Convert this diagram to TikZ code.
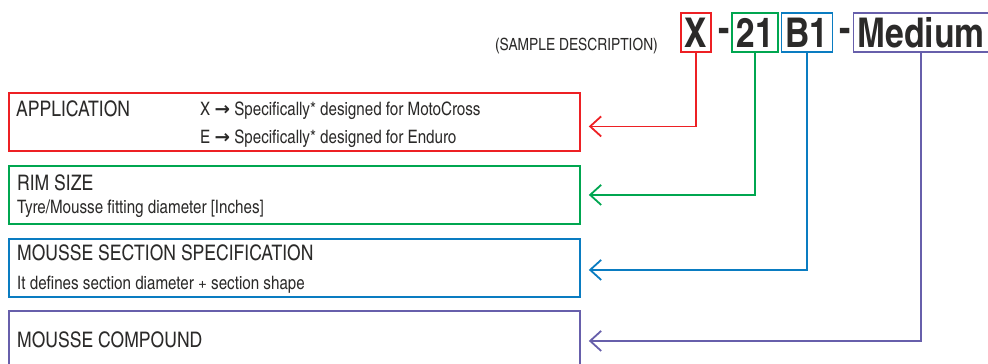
\documentclass[tikz,border=0pt]{standalone}
\usepackage{fontspec}
\setmainfont{texgyreheroscn}[Extension=.otf, UprightFont=*-regular, BoldFont=*-bold]
\newfontfamily\arrowfont{DejaVu Sans}
\usetikzlibrary{arrows.meta,positioning,calc}
\definecolor{appRed}{HTML}{ED2024}
\definecolor{rimGreen}{HTML}{00A650}
\definecolor{secBlue}{HTML}{0A7CC1}
\definecolor{cmpPurple}{HTML}{675FAB}
\definecolor{ink}{HTML}{2B2A29}

\begin{document}
\begin{tikzpicture}[
  x=1pt, y=-1pt,
  font=\fontsize{18.5}{22}\selectfont, text=ink,
  code/.style={draw, line width=1.9pt, minimum height=39pt, inner xsep=4pt, inner ysep=0pt,
    font=\bfseries\fontsize{41}{42}\selectfont},
  sep/.style={inner sep=0pt, font=\bfseries\fontsize{41}{42}\selectfont},
  part/.style={draw, line width=1.8pt, anchor=north west, inner sep=0pt,
    minimum width=571pt, minimum height=58pt},
  head/.style={anchor=base west, inner sep=0pt, font=\fontsize{21.4}{25}\selectfont},
  info/.style={anchor=base west, inner sep=0pt},
  link/.style={line width=1.8pt, -{Straight Barb[length=11pt, width=20pt]}}
]
  \useasboundingbox (0,0) rectangle (988,364);
  \clip (0,0) rectangle (988,364);

  % sample code
  \node[info, anchor=base east, font=\fontsize{16.8}{20}\selectfont] (sample) at (658,50) {(SAMPLE DESCRIPTION)};
  \node[code, draw=appRed] (codeX) at (696,32.5) {X};
  \node[sep] (dashA) at (724,35) {-};
  \node[code, draw=rimGreen] (codeRim) at (755,32.5) {21};
  \node[code, draw=secBlue] (codeSec) at (807,32.5) {B1};
  \node[sep] (dashB) at (845,35) {-};
  \node[code, draw=cmpPurple] (codeCmp) at (921,32.5) {Medium};

  % description boxes
  \node[part, draw=appRed] (app) at (8,92) {};
  \node[part, draw=rimGreen] (rim) at (8,165) {};
  \node[part, draw=secBlue] (sec) at (8,238) {};
  \node[part, draw=cmpPurple, minimum height=70pt] (cmp) at (8,310) {};

  \node[head] (appHead) at (16,116) {APPLICATION};
  \node[info] (appX) at (200,115.5) {X {\arrowfont\bfseries →} Specifically* designed for MotoCross};
  \node[info] (appE) at (200,143.5) {E {\arrowfont\bfseries →} Specifically* designed for Enduro};
  \node[head] (rimHead) at (17,190) {RIM SIZE};
  \node[info] (rimText) at (17,213.5) {Tyre/Mousse fitting diameter [Inches]};
  \node[head] (secHead) at (17,260.5) {MOUSSE SECTION SPECIFICATION};
  \node[info] (secText) at (17,289.5) {It defines section diameter + section shape};
  \node[head] (cmpHead) at (17,347) {MOUSSE COMPOUND};

  % links
  \draw[link, appRed] (codeX.south) |- ([xshift=8pt, yshift=-4.5pt]app.east);
  \draw[link, rimGreen] (codeRim.south) |- ([xshift=8pt]rim.east);
  \draw[link, secBlue] (codeSec.south) |- ([xshift=8pt, yshift=-2pt]sec.east);
  \draw[link, cmpPurple] (codeCmp.south) |- ([xshift=8pt, yshift=5pt]cmp.east);
\end{tikzpicture}
\end{document}
